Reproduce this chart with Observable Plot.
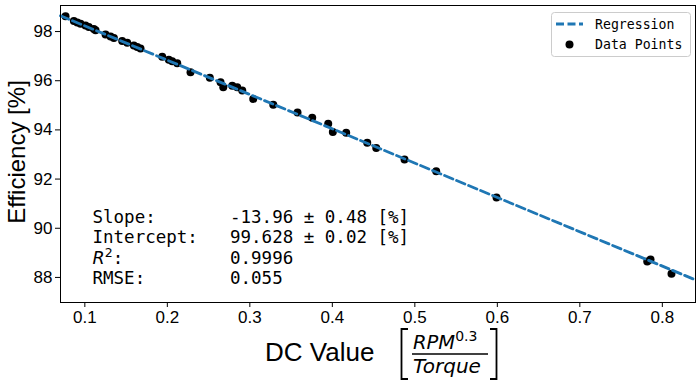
<!DOCTYPE html>
<html><head><meta charset="utf-8">
<script src="https://cdn.jsdelivr.net/npm/d3@7"></script>
<script src="https://cdn.jsdelivr.net/npm/@observablehq/plot@0.6"></script>
<style>body{margin:0;background:#fff}</style>
</head><body><div id="chart"></div>
<script>
const dcValue = [0.0766,0.0867,0.0908,0.0948,0.1008,0.1048,0.1109,0.1130,0.1251,0.1312,0.1352,0.1453,0.1514,0.1594,0.1635,0.1675,
  0.1938,0.2018,0.2059,0.2120,0.2281,0.2515,0.2645,0.2678,0.2787,0.2847,0.2908,0.3041,0.3284,0.3578,0.3756,0.3950,0.4006,0.4168,
  0.4423,0.4532,0.4875,0.5259,0.5990,0.7817,0.7857,0.8111];
const efficiency = [98.62,98.43,98.37,98.32,98.25,98.19,98.10,98.05,97.88,97.80,97.74,97.62,97.54,97.43,97.37,97.31,
  96.98,96.85,96.79,96.71,96.35,96.12,95.94,95.74,95.80,95.74,95.60,95.26,95.02,94.71,94.49,94.25,93.91,93.88,
  93.48,93.26,92.80,92.32,91.25,88.65,88.73,88.15];
const regX = [0.0705, 0.8402];
const regY = [98.644, 87.899];
const xTicks = [0.1,0.2,0.3,0.4,0.5,0.6,0.7,0.8];
const yTicks = [88,90,92,94,96,98];
const statLabels = ["Slope:", "Intercept:", "R", "RMSE:"];
const statValues = ["-13.96 ± 0.48 [%]", "99.628 ± 0.02 [%]", "0.9996", "0.055"];
const legendLabels = ["Regression", "Data Points"];

const points = dcValue.map((x, i) => ({x, y: efficiency[i]}));
const reg = regX.map((x, i) => ({x, y: regY[i]}));
const blue = "#1f77b4";

const chart = Plot.plot({
  width: 696, height: 380,
  marginLeft: 60, marginRight: 1, marginTop: 5, marginBottom: 78,
  style: {fontFamily: "Liberation Sans, Arial, sans-serif", color: "black", background: "white"},
  x: {domain: [0.0705, 0.8402]},
  y: {domain: [86.98, 99.06]},
  marks: [
    Plot.dot(points, {x: "x", y: "y", r: 4, fill: "black", stroke: "none"}),
    Plot.line(reg, {x: "x", y: "y", stroke: blue, strokeWidth: 2.8, strokeDasharray: "9,4"}),
    Plot.frame({stroke: "black", strokeWidth: 1}),
    Plot.axisX({ticks: xTicks, tickSize: 5, tickPadding: 3, tickFormat: d => d.toFixed(1), fontSize: 17, label: null}),
    Plot.axisY({ticks: yTicks, tickSize: 5, tickPadding: 3, tickFormat: d => String(d), fontSize: 17, label: null})
  ]
});
document.getElementById("chart").appendChild(chart);

const svg = d3.select(chart);
const g = svg.append("g").attr("text-anchor", "start");

// y label
g.append("text").attr("transform", "translate(25,152) rotate(-90)")
  .attr("text-anchor", "middle").attr("font-family", "Liberation Sans, Arial, sans-serif")
  .attr("font-size", 24).attr("fill", "black").text("Efficiency [%]");

// x label
g.append("text").attr("x", 265).attr("y", 361).attr("font-family", "Liberation Sans, Arial, sans-serif")
  .attr("font-size", 26).attr("fill", "black").text("DC Value");
const br = g.append("g").attr("fill", "none").attr("stroke", "black").attr("stroke-width", 1.8);
br.append("path").attr("d", "M408,329H401.5V379H408");
br.append("path").attr("d", "M490,329H496.5V379H490");
const num = g.append("text").attr("x", 413).attr("y", 349).attr("font-family", "DejaVu Sans").attr("fill", "black");
num.append("tspan").attr("font-style", "italic").attr("font-size", 19.5).text("RPM");
num.append("tspan").attr("font-size", 14).attr("dy", -8).text("0.3");
g.append("line").attr("x1", 412).attr("x2", 488).attr("y1", 354).attr("y2", 354).attr("stroke", "black").attr("stroke-width", 1.4);
g.append("text").attr("x", 413).attr("y", 373).attr("font-family", "DejaVu Sans").attr("font-style", "italic")
  .attr("font-size", 20).attr("fill", "black").text("Torque");

// stats block
const rowY = [222.5, 243, 263.5, 284];
statLabels.forEach((lab, i) => {
  const t = g.append("text").attr("x", 92.5).attr("y", rowY[i]).attr("font-family", "DejaVu Sans Mono")
    .attr("font-size", 17.5).attr("fill", "black");
  if (lab === "R") {
    t.append("tspan").attr("font-family", "DejaVu Sans").attr("font-style", "italic").text("R");
    t.append("tspan").attr("font-family", "DejaVu Sans").attr("font-size", 12.5).attr("dy", -7).text("2");
    t.append("tspan").attr("dy", 7).text(":");
  } else t.text(lab);
  g.append("text").attr("x", 230).attr("y", rowY[i]).attr("font-family", "DejaVu Sans Mono")
    .attr("font-size", 17.5).attr("fill", "black").text(statValues[i]);
});

// legend
const lg = g.append("g");
lg.append("rect").attr("x", 551.5).attr("y", 12.5).attr("width", 139).attr("height", 44).attr("rx", 3)
  .attr("fill", "white").attr("fill-opacity", 0.8).attr("stroke", "#cccccc");
lg.append("line").attr("x1", 556).attr("x2", 583).attr("y1", 24).attr("y2", 24)
  .attr("stroke", blue).attr("stroke-width", 2.8).attr("stroke-dasharray", "8,3.5");
lg.append("circle").attr("cx", 569.5).attr("cy", 44.5).attr("r", 4).attr("fill", "black");
legendLabels.forEach((lab, i) => {
  lg.append("text").attr("x", 595).attr("y", 28.5 + i * 20).attr("font-family", "DejaVu Sans Mono")
    .attr("font-size", 13.2).attr("fill", "black").text(lab);
});
</script>
</body></html>
